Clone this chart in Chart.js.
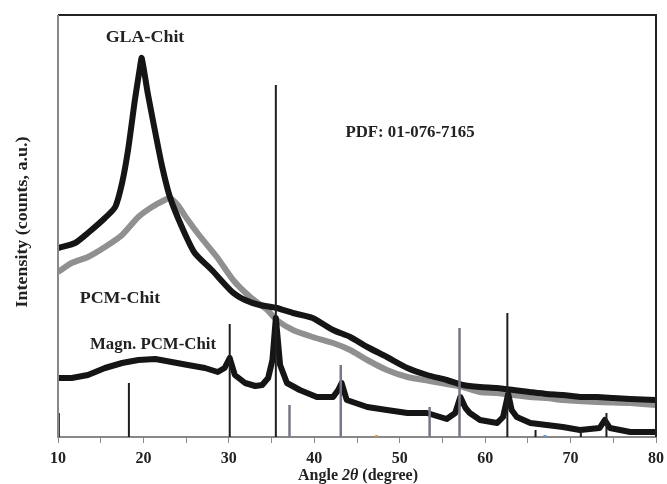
<!DOCTYPE html>
<html>
<head>
<meta charset="utf-8">
<script src="https://cdn.jsdelivr.net/npm/chart.js@4.4.0/dist/chart.umd.min.js"></script>
<style>
  body { margin: 0; background: #fff; }
</style>
</head>
<body>
<canvas id="xrdChart" width="667" height="484"></canvas>
<script>
// GLA-Chit
const glaAngle  = [10.0, 12.0, 13.5, 15.5, 16.7, 17.5, 18.2, 19.0, 19.6, 19.8, 20.5, 21.4, 22.2, 23.1, 24.5, 26.0, 28.0, 30.4, 31.9, 33.6, 35.6, 37.5, 39.8, 42.2, 44.2, 46.2, 48.5, 50.9, 53.2, 55.5, 57.4, 59.4, 61.4, 63.3, 65.2, 67.2, 69.1, 71.1, 73.1, 75.0, 77.0, 79.9];
const glaCounts = [189, 194, 204, 219, 230, 254, 287, 337, 370, 379, 344, 304, 270, 240, 210, 184, 167, 145, 137, 132, 129, 124, 119, 107, 100, 90, 80, 69, 62, 57, 52, 50, 49, 47, 45, 43, 42, 40, 40, 39, 38, 37];

// PCM-Chit
const pcmAngle  = [10.0, 11.6, 13.5, 15.5, 17.5, 19.4, 21.0, 22.5, 23.1, 24.0, 25.2, 26.6, 28.6, 30.5, 32.5, 34.5, 35.6, 37.5, 39.8, 42.2, 44.2, 46.2, 48.5, 50.9, 53.5, 55.5, 57.4, 59.4, 61.4, 63.3, 65.2, 67.2, 69.1, 73.1, 77.0, 79.9];
const pcmCounts = [165, 174, 180, 190, 202, 220, 230, 237, 239, 232, 217, 201, 180, 157, 140, 127, 117, 107, 100, 94, 87, 77, 67, 60, 56, 53, 50, 45, 44, 42, 40, 39, 37, 35, 34, 32];

// Magn. PCM-Chit
const magnAngle  = [10.0, 11.6, 13.5, 15.5, 17.5, 19.4, 21.4, 23.3, 25.2, 27.2, 28.7, 29.5, 30.1, 30.7, 31.9, 33.1, 33.9, 34.6, 35.1, 35.5, 36.0, 36.8, 38.3, 40.3, 42.2, 42.8, 43.2, 43.8, 46.2, 48.5, 50.9, 53.2, 55.5, 56.5, 57.1, 57.7, 58.2, 59.4, 61.4, 62.1, 62.7, 63.1, 63.7, 65.3, 67.2, 69.1, 71.1, 73.4, 74.0, 74.6, 77.0, 79.9];
const magnCounts = [59, 59, 62, 69, 74, 77, 78, 75, 72, 69, 65, 69, 79, 62, 54, 51, 52, 59, 77, 119, 72, 54, 47, 40, 40, 47, 54, 37, 30, 27, 24, 24, 18, 24, 40, 29, 24, 17, 14, 20, 43, 27, 20, 14, 12, 10, 7, 9, 17, 9, 5, 5];

// PDF 01-076-7165 reference lines
const pdfDarkAngle  = [10.1, 18.3, 30.1, 35.5, 62.6, 65.9, 71.2, 74.2];
const pdfDarkHeight = [24, 54, 113, 352, 124, 7, 7, 24];
const pdfGreyAngle  = [37.1, 43.1, 53.5, 57.0];
const pdfGreyHeight = [32, 72, 30, 109];
// tiny coloured marks sitting on the axis
const pdfOrangeAngle  = [47.3];
const pdfOrangeHeight = [2];
const pdfBlueAngle  = [67.0];
const pdfBlueHeight = [2];

const angleTicks = [10, 20, 30, 40, 50, 60, 70, 80];

function toPoints(xs, ys) {
  return xs.map((x, i) => ({ x: x, y: ys[i] }));
}

function toSticks(xs, hs) {
  const pts = [];
  xs.forEach((x, i) => {
    pts.push({ x: x, y: 0 }, { x: x, y: hs[i] }, { x: x, y: null });
  });
  return pts;
}

function stickSet(label, xs, hs, color, width) {
  return {
    label: label,
    data: toSticks(xs, hs),
    borderColor: color,
    borderWidth: width,
    pointRadius: 0,
    order: 0
  };
}

const serif = '"Liberation Serif", "DejaVu Serif", serif';

// frame and texts
const decorations = {
  id: 'decorations',
  afterDraw(chart) {
    const ctx = chart.ctx;
    const a = chart.chartArea;
    ctx.save();

    // frame
    ctx.lineCap = 'butt';
    ctx.strokeStyle = '#222';
    ctx.lineWidth = 2;
    ctx.beginPath();
    ctx.moveTo(a.left, a.top);
    ctx.lineTo(a.right, a.top);
    ctx.lineTo(a.right, a.bottom);
    ctx.stroke();
    ctx.strokeStyle = '#888';
    ctx.beginPath();
    ctx.moveTo(a.left, a.top);
    ctx.lineTo(a.left, a.bottom);
    ctx.stroke();

    // annotations
    ctx.fillStyle = '#222';
    ctx.textAlign = 'center';
    ctx.textBaseline = 'alphabetic';
    const label = (text, cx, base, size, stretch) => {
      ctx.save();
      ctx.font = 'bold ' + size + 'px ' + serif;
      ctx.translate(cx, base);
      ctx.scale(stretch, 1);
      ctx.fillText(text, 0, 0);
      ctx.restore();
    };
    label('GLA-Chit', 145, 42, 16, 1.12);
    label('PDF: 01-076-7165', 410, 137, 16, 1.05);
    label('PCM-Chit', 120, 303, 16, 1.12);
    label('Magn. PCM-Chit', 153, 349, 16, 1.05);

    // x title with italic 2θ
    const parts = [
      ['Angle ', 'bold '],
      ['2\u03B8', 'italic bold '],
      [' (degree)', 'bold ']
    ];
    let total = 0;
    parts.forEach(p => { ctx.font = p[1] + '16px ' + serif; total += ctx.measureText(p[0]).width; });
    let x = 358 - total / 2;
    ctx.textAlign = 'left';
    parts.forEach(p => {
      ctx.font = p[1] + '16px ' + serif;
      ctx.fillText(p[0], x, 480);
      x += ctx.measureText(p[0]).width;
    });

    // y title
    ctx.save();
    ctx.translate(27, 222);
    ctx.rotate(-Math.PI / 2);
    ctx.textAlign = 'center';
    ctx.font = 'bold 16px ' + serif;
    ctx.scale(1.12, 1);
    ctx.fillText('Intensity (counts, a.u.)', 0, 0);
    ctx.restore();

    ctx.restore();
  }
};

new Chart(document.getElementById('xrdChart'), {
  type: 'line',
  data: {
    datasets: [
      stickSet('PDF dark', pdfDarkAngle, pdfDarkHeight, '#1e1e1e', 2),
      stickSet('PDF grey', pdfGreyAngle, pdfGreyHeight, '#7c7488', 2.5),
      stickSet('PDF orange', pdfOrangeAngle, pdfOrangeHeight, '#d99a5a', 3),
      stickSet('PDF blue', pdfBlueAngle, pdfBlueHeight, '#5a9ad9', 3),
      {
        label: 'Magn. PCM-Chit',
        data: toPoints(magnAngle, magnCounts),
        borderColor: '#151515',
        borderWidth: 6,
        pointRadius: 0,
        tension: 0,
        borderJoinStyle: 'round',
        order: 1
      },
      {
        label: 'GLA-Chit',
        data: toPoints(glaAngle, glaCounts),
        borderColor: '#151515',
        borderWidth: 6,
        pointRadius: 0,
        tension: 0.2,
        order: 1
      },
      {
        label: 'PCM-Chit',
        data: toPoints(pcmAngle, pcmCounts),
        borderColor: '#909090',
        borderWidth: 6,
        pointRadius: 0,
        tension: 0.2,
        order: 2
      }
    ]
  },
  options: {
    responsive: false,
    animation: false,
    layout: { padding: { left: 58, right: 0, top: 15, bottom: 0 } },
    plugins: {
      legend: { display: false },
      tooltip: { enabled: false }
    },
    scales: {
      x: {
        type: 'linear',
        min: 10,
        max: 80,
        afterFit: (scale) => { scale.height = 47; scale.paddingRight = 11; },
        grid: {
          display: true,
          drawOnChartArea: false,
          drawTicks: true,
          tickLength: 6,
          color: '#8a8a8a',
          lineWidth: 1
        },
        border: { display: true, color: '#888', width: 2 },
        ticks: {
          stepSize: 5,
          padding: 6,
          color: '#222',
          font: { family: serif, size: 16, weight: 'bold' },
          maxRotation: 0,
          autoSkip: false,
          callback: (v) => angleTicks.includes(v) ? String(v) : ''
        }
      },
      y: {
        display: false,
        min: 0,
        max: 422
      }
    }
  },
  plugins: [decorations]
});
</script>
</body>
</html>
